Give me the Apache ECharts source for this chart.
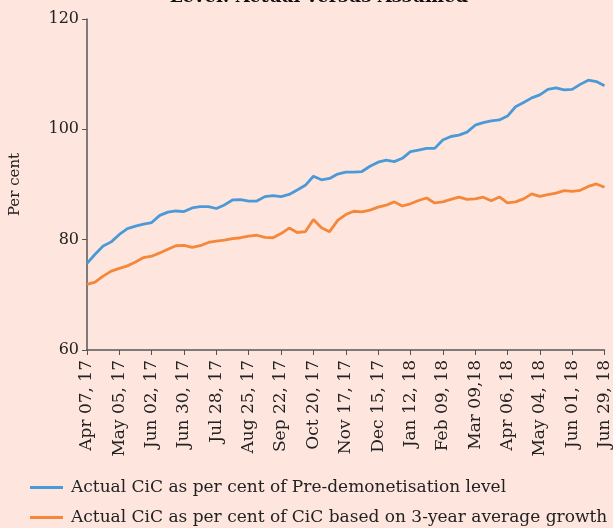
<!DOCTYPE html>
<html>
<head>
<meta charset="utf-8">
<script src="https://cdn.jsdelivr.net/npm/echarts@6/dist/echarts.min.js"></script>
<style>
  html, body { margin: 0; padding: 0; background: #fee6de; }
  #chart { width: 613px; height: 528px; }
</style>
</head>
<body>
<div id="chart"></div>
<script>
// weekly dates, Apr 07, 17 .. Jun 29, 18
const weeks = [
  'Apr 07, 17', 'Apr 14, 17', 'Apr 21, 17', 'Apr 28, 17',
  'May 05, 17', 'May 12, 17', 'May 19, 17', 'May 26, 17',
  'Jun 02, 17', 'Jun 09, 17', 'Jun 16, 17', 'Jun 23, 17', 'Jun 30, 17',
  'Jul 07, 17', 'Jul 14, 17', 'Jul 21, 17', 'Jul 28, 17',
  'Aug 04, 17', 'Aug 11, 17', 'Aug 18, 17', 'Aug 25, 17',
  'Sep 01, 17', 'Sep 08, 17', 'Sep 15, 17', 'Sep 22, 17', 'Sep 29, 17',
  'Oct 06, 17', 'Oct 13, 17', 'Oct 20, 17', 'Oct 27, 17',
  'Nov 03, 17', 'Nov 10, 17', 'Nov 17, 17', 'Nov 24, 17',
  'Dec 01, 17', 'Dec 08, 17', 'Dec 15, 17', 'Dec 22, 17', 'Dec 29, 17',
  'Jan 05, 18', 'Jan 12, 18', 'Jan 19, 18', 'Jan 26, 18',
  'Feb 02, 18', 'Feb 09, 18', 'Feb 16, 18', 'Feb 23, 18',
  'Mar 02, 18', 'Mar 09,18', 'Mar 16, 18', 'Mar 23, 18', 'Mar 30, 18',
  'Apr 06, 18', 'Apr 13, 18', 'Apr 20, 18', 'Apr 27, 18',
  'May 04, 18', 'May 11, 18', 'May 18, 18', 'May 25, 18',
  'Jun 01, 18', 'Jun 08, 18', 'Jun 15, 18', 'Jun 22, 18', 'Jun 29, 18'
];

// Actual CiC as per cent of pre-demonetisation level
const preDemon = [
  75.7, 77.35, 78.85, 79.6, 80.95, 82.0, 82.45, 82.8, 83.1, 84.4,
  85.0, 85.2, 85.1, 85.75, 86.0, 86.0, 85.65, 86.3, 87.2, 87.25,
  87.0, 87.0, 87.8, 88.0, 87.8, 88.2, 89.0, 89.85, 91.5, 90.85,
  91.1, 91.9, 92.25, 92.25, 92.35, 93.3, 94.05, 94.4, 94.15, 94.75,
  95.95, 96.25, 96.55, 96.55, 98.05, 98.7, 98.95, 99.5, 100.75, 101.2,
  101.55, 101.7, 102.4, 104.1, 104.85, 105.7, 106.25, 107.25, 107.5, 107.15,
  107.25, 108.15, 108.9, 108.65, 107.9
];

// Actual CiC as per cent of CiC based on 3-year average growth
const avgGrowth = [
  71.9, 72.3, 73.4, 74.3, 74.8, 75.25, 75.95, 76.75, 77.0, 77.6,
  78.25, 78.9, 78.95, 78.6, 78.9, 79.5, 79.75, 79.9, 80.2, 80.35,
  80.65, 80.8, 80.4, 80.35, 81.1, 82.1, 81.3, 81.45, 83.65, 82.15,
  81.45, 83.5, 84.55, 85.15, 85.05, 85.35, 85.9, 86.25, 86.85, 86.1,
  86.5, 87.1, 87.55, 86.65, 86.85, 87.3, 87.7, 87.3, 87.4, 87.7,
  87.05, 87.75, 86.65, 86.85, 87.4, 88.3, 87.85, 88.15, 88.45, 88.9,
  88.75, 88.95, 89.65, 90.1, 89.5
];

const seriesNames = [
  'Actual CiC as per cent of Pre-demonetisation level',
  'Actual CiC as per cent of CiC based on 3-year average growth'
];
const colors = ['#4a9ad8', '#f5873a'];

const FONT = 'DejaVu Serif';
const chart = echarts.init(document.getElementById('chart'), null, {renderer: 'canvas'});

// one legend per row, so the box never wraps into columns
const legendRow = (name, top) => ({
  left: 25,
  top: top,
  icon: 'rect',
  itemWidth: 33,
  itemHeight: 3,
  textStyle: {fontFamily: FONT, fontSize: 17, color: '#222', padding: [0, 0, 0, 3]},
  data: [name]
});

chart.setOption({
  backgroundColor: '#fee6de',
  animation: false,
  title: {
    text: 'Level: Actual versus Assumed',
    left: 314,
    top: -17,
    textAlign: 'center',
    textStyle: {fontFamily: FONT, fontSize: 18, fontWeight: 'bold', color: '#111'}
  },
  grid: {left: 87, right: 8, top: 19, bottom: 178},
  legend: [
    legendRow(seriesNames[0], 474),
    legendRow(seriesNames[1], 504)
  ],
  xAxis: {
    type: 'category',
    boundaryGap: false,
    data: weeks,
    axisLine: {lineStyle: {color: '#555', width: 1.5}},
    axisTick: {interval: 3, length: 5, lineStyle: {color: '#555'}},
    axisLabel: {
      interval: 3,
      rotate: 90,
      margin: 10,
      fontFamily: FONT,
      fontSize: 17,
      color: '#222'
    }
  },
  yAxis: {
    type: 'value',
    min: 60,
    max: 120,
    interval: 20,
    name: 'Per cent',
    nameLocation: 'middle',
    nameRotate: 90,
    nameGap: 64,
    nameTextStyle: {fontFamily: FONT, fontSize: 15, color: '#222'},
    axisLine: {show: true, lineStyle: {color: '#555', width: 1.5}},
    axisTick: {show: true, length: 5, lineStyle: {color: '#555'}},
    axisLabel: {fontFamily: FONT, fontSize: 16, color: '#222', margin: 8},
    splitLine: {show: false}
  },
  series: seriesNames.map((name, i) => ({
    name: name,
    type: 'line',
    data: i === 0 ? preDemon : avgGrowth,
    symbol: 'none',
    lineStyle: {color: colors[i], width: 2.8},
    itemStyle: {color: colors[i]}
  }))
});
</script>
</body>
</html>
